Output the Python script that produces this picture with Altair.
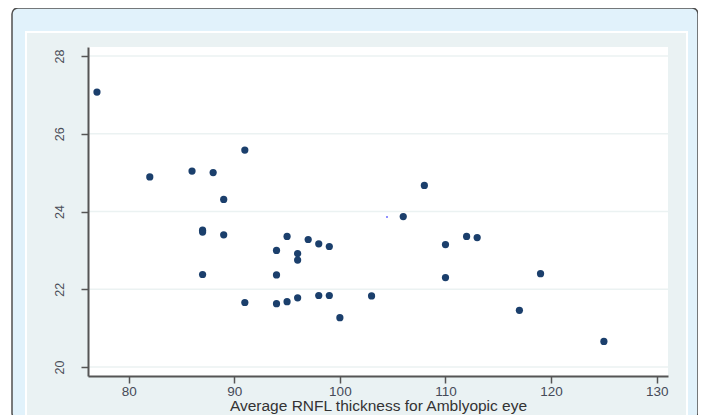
import altair as alt
import pandas as pd

# Average RNFL thickness (amblyopic eye) vs second measure
rnfl = [77, 82, 86, 88, 91, 89, 87, 87, 89, 87,
        94, 95, 96, 96, 97, 98, 99, 94, 91, 94,
        95, 96, 98, 99, 103, 100, 108, 106, 110, 112,
        113, 110, 119, 117, 125]
yval = [27.07, 24.89, 25.04, 25.00, 25.58, 24.31, 23.52, 23.47, 23.40, 22.38,
        23.00, 23.36, 22.92, 22.75, 23.28, 23.17, 23.10, 22.37, 21.66, 21.63,
        21.68, 21.78, 21.84, 21.84, 21.83, 21.27, 24.67, 23.87, 23.15, 23.36,
        23.33, 22.30, 22.40, 21.46, 20.66]
stray_x = [104.46]
stray_y = [23.86]

x_ticks = [80, 90, 100, 110, 120, 130]
y_ticks = [20, 22, 24, 26, 28]

W, H = 580, 329
xscale = alt.Scale(domain=[76.15, 131.07], nice=False, zero=False)
yscale = alt.Scale(domain=[19.77, 28.23], nice=False, zero=False)

pts = pd.DataFrame({"x": rnfl, "y": yval})
stray = pd.DataFrame({"x": stray_x, "y": stray_y})
grid = pd.DataFrame({"v": y_ticks})
one = pd.DataFrame({"a": [0]})

xaxis = alt.Axis(values=x_ticks, title="Average RNFL thickness for Amblyopic eye",
                 grid=False, domainColor="#555555", domainWidth=2,
                 tickColor="#555555", tickWidth=1.5, tickSize=7,
                 labelFontSize=13.5, labelColor="#454a58", labelPadding=1,
                 labelFont="Liberation Sans", titleFont="Liberation Sans",
                 titleFontSize=15.5, titleFontWeight="normal", titleColor="#333333",
                 titleBaseline="alphabetic", titleY=34.5,
                 labelFlush=False, zindex=1)
yaxis = alt.Axis(values=y_ticks, title=None, grid=False,
                 domainColor="#555555", domainWidth=2,
                 tickColor="#555555", tickWidth=1.5, tickSize=7,
                 labelFontSize=12.5, labelColor="#4a4e58", labelAngle=270,
                 labelAlign="center", labelBaseline="bottom", labelPadding=15,
                 labelFont="Liberation Sans", labelFlush=False, zindex=1)

frame = alt.Chart(one).mark_rect(
    fill="#e1f2fb", stroke="#505050", strokeWidth=1.5, cornerRadius=6
).encode(x=alt.value(-76), x2=alt.value(610), y=alt.value(-39), y2=alt.value(372))

panel = alt.Chart(one).mark_rect(
    fill="#eaf2f3", stroke="white", strokeWidth=2
).encode(x=alt.value(-62), x2=alt.value(599), y=alt.value(-15), y2=alt.value(380))

plotbg = alt.Chart(one).mark_rect(fill="white").encode(
    x=alt.value(0), x2=alt.value(W), y=alt.value(0), y2=alt.value(H)
)

gridlines = alt.Chart(grid).mark_rule(color="#ebf2f2", strokeWidth=1.5).encode(
    y=alt.Y("v:Q", scale=yscale, axis=yaxis),
    x=alt.value(0), x2=alt.value(W),
)

points = alt.Chart(pts).mark_circle(size=52, color="#1b3f6c", opacity=1).encode(
    x=alt.X("x:Q", scale=xscale, axis=xaxis),
    y=alt.Y("y:Q", scale=yscale, axis=yaxis),
)

stray_pt = alt.Chart(stray).mark_circle(size=4, color="#6d6dff", opacity=1).encode(
    x=alt.X("x:Q", scale=xscale, axis=xaxis), y=alt.Y("y:Q", scale=yscale, axis=yaxis)
)

chart = alt.layer(frame, panel, plotbg, gridlines, points, stray_pt).properties(
    width=W, height=H,
    padding={"left": 80, "top": 39, "right": 30, "bottom": 39},
    autosize=alt.AutoSizeParams(type="none"),
    background="white",
).configure_view(stroke=None)

chart.save("out.html", embed_options={"renderer": "svg", "actions": False})
